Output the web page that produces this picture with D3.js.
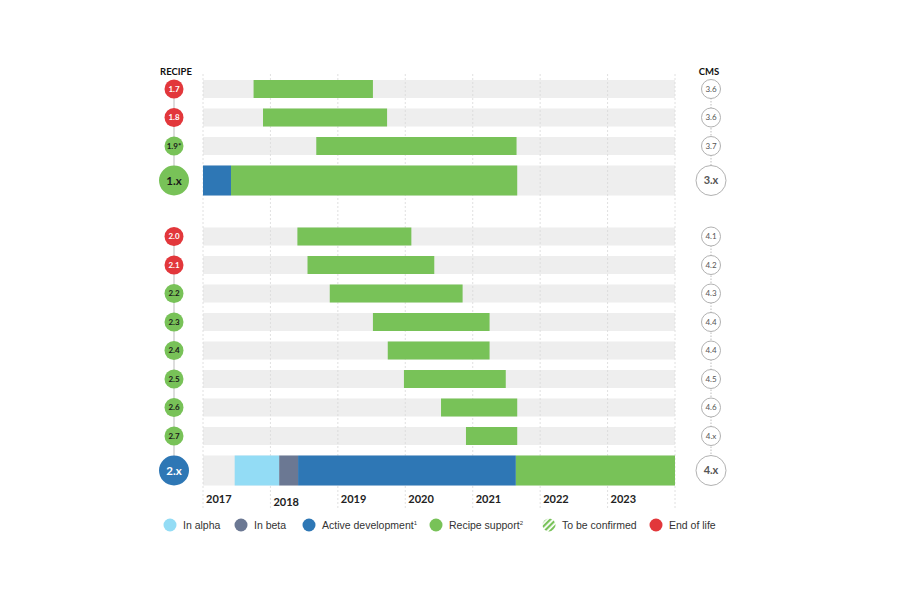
<!DOCTYPE html>
<html><head><meta charset="utf-8">
<script src="https://cdn.jsdelivr.net/npm/d3@7"></script>
<style>body{margin:0;background:#fff;} svg{display:block;}</style>
</head><body>
<svg id="chart" width="900" height="600"></svg>
<script>
// ---- data ----
const recipes = ["1.7","1.8","1.9*","1.x","2.0","2.1","2.2","2.3","2.4","2.5","2.6","2.7","2.x"];
const cmsVersions = ["3.6","3.6","3.7","3.x","4.1","4.2","4.3","4.4","4.4","4.5","4.6","4.x","4.x"];
const groups = [1,1,1,1,2,2,2,2,2,2,2,2,2];
const majors = [false,false,false,true,false,false,false,false,false,false,false,false,true];
const recipeStatus = ["eol","eol","recipe","recipe","eol","eol","recipe","recipe","recipe","recipe","recipe","recipe","active"];
const years = [2017,2018,2019,2020,2021,2022,2023];
// segments: [recipe, phase, start, end]
const segments = [
  ["1.7","recipe",2017.75,2019.52],
  ["1.8","recipe",2017.89,2019.73],
  ["1.9*","recipe",2018.68,2021.65],
  ["1.x","active",2017.0,2017.415],
  ["1.x","recipe",2017.415,2021.66],
  ["2.0","recipe",2018.40,2020.09],
  ["2.1","recipe",2018.55,2020.43],
  ["2.2","recipe",2018.88,2020.85],
  ["2.3","recipe",2019.52,2021.25],
  ["2.4","recipe",2019.74,2021.25],
  ["2.5","recipe",2019.98,2021.49],
  ["2.6","recipe",2020.53,2021.66],
  ["2.7","recipe",2020.90,2021.66],
  ["2.x","alpha",2017.47,2018.13],
  ["2.x","beta",2018.13,2018.41],
  ["2.x","active",2018.41,2021.64],
  ["2.x","recipe",2021.64,2024.0]
];
const legendKeys = ["alpha","beta","active","recipe","tbc","eol"];
const legendLabels = ["In alpha","In beta","Active development","Recipe support","To be confirmed","End of life"];
const legendSup = ["","","1","2","",""];

// ---- styles ----
const colors = {alpha:"#93dcf5", beta:"#6b7893", active:"#2e77b5", recipe:"#78c258", eol:"#e2373b", tbc:"#78c258"};
const svg = d3.select("#chart");
const defs = svg.append("defs");
const pat = defs.append("pattern").attr("id","stripes").attr("patternUnits","userSpaceOnUse")
  .attr("width",4).attr("height",4).attr("patternTransform","rotate(45)");
pat.append("rect").attr("width",2.2).attr("height",4).attr("fill",colors.recipe);

const x = d3.scaleLinear().domain([2017,2024]).range([203,675]);

// row layout
const smallH = 18, bigH = 30, gap = 10.5, groupGap = 32;
const rows = [];
let yCur = 80;
recipes.forEach((r,i) => {
  if (i>0) yCur += (groups[i] !== groups[i-1]) ? groupGap : gap;
  const h = majors[i] ? bigH : smallH;
  rows.push({name:r, cms:cmsVersions[i], top:yCur, h, major:majors[i], status:recipeStatus[i], group:groups[i]});
  yCur += h;
});
const rowByName = new Map(rows.map(r=>[r.name,r]));

const font = "Lato, 'Open Sans', sans-serif";

// background bars
svg.append("g").selectAll("rect").data(rows).join("rect")
  .attr("x", x(2017)).attr("width", x(2024)-x(2017))
  .attr("y", d=>d.top).attr("height", d=>d.h).attr("fill","#eeeeee");

// gridlines
svg.append("g").selectAll("line").data(years.concat([2024])).join("line")
  .attr("x1", d=>x(d)).attr("x2", d=>x(d)).attr("y1", 74).attr("y2", 508)
  .attr("stroke","#d8d8d8").attr("stroke-width",0.8).attr("stroke-dasharray","2,2");

// segments
svg.append("g").selectAll("rect").data(segments).join("rect")
  .attr("x", d=>x(d[2])).attr("width", d=>x(d[3])-x(d[2]))
  .attr("y", d=>rowByName.get(d[0]).top).attr("height", d=>rowByName.get(d[0]).h)
  .attr("fill", d=>colors[d[1]]);

// year labels
svg.append("g").selectAll("text").data(years).join("text")
  .attr("x", d=>x(d)+3).attr("y", (d,i)=> i===1 ? 506 : 503)
  .attr("font-family", font).attr("font-weight",700).attr("font-size",11).attr("fill","#222")
  .text(d=>d);

// left recipe column
const lx = 174, rx = 711;
[1,2].forEach(g => {
  const gr = rows.filter(r=>r.group===g);
  const y1 = gr[0].top + gr[0].h/2, y2 = gr[gr.length-1].top + gr[gr.length-1].h/2;
  svg.append("line").attr("x1",lx).attr("x2",lx).attr("y1",y1).attr("y2",y2).attr("stroke","#bbb").attr("stroke-width",1);
  svg.append("line").attr("x1",rx).attr("x2",rx).attr("y1",y1).attr("y2",y2).attr("stroke","#bbb").attr("stroke-width",1).attr("stroke-dasharray","1.5,1.5");
});
const lg = svg.append("g").selectAll("g").data(rows).join("g")
  .attr("transform", d=>`translate(${lx},${d.top+d.h/2})`);
lg.append("circle").attr("r", d=>d.major?15:9.5).attr("fill", d=>colors[d.status]);
lg.append("text").attr("text-anchor","middle").attr("dy","0.35em")
  .attr("font-family", font).attr("font-weight",700).attr("font-size", d=>d.major?11.5:8)
  .attr("fill", d=> d.status==="recipe" ? "#1a1a1a" : "#fff")
  .text(d=>d.name);

// right CMS column
const rg = svg.append("g").selectAll("g").data(rows).join("g")
  .attr("transform", d=>`translate(${rx},${d.top+d.h/2})`);
rg.append("circle").attr("r", d=>d.major?15:9.5).attr("fill","#fff").attr("stroke","#a8a8a8").attr("stroke-width",0.9);
rg.append("text").attr("text-anchor","middle").attr("dy","0.35em")
  .attr("font-family", font).attr("font-weight", d=>d.major?700:400).attr("font-size", d=>d.major?11:8)
  .attr("fill","#555").text(d=>d.cms);

// headers
svg.append("text").attr("x",176).attr("y",75).attr("text-anchor","middle")
  .attr("font-family", font).attr("font-weight",700).attr("font-size",9.5).attr("fill","#111").text("RECIPE");
svg.append("text").attr("x",709).attr("y",75).attr("text-anchor","middle")
  .attr("font-family", font).attr("font-weight",700).attr("font-size",9.5).attr("fill","#111").text("CMS");

// legend
const legendX = [170,241,309,436,549,656];
const leg = svg.append("g").selectAll("g").data(legendKeys).join("g")
  .attr("transform",(d,i)=>`translate(${legendX[i]},525)`);
leg.append("circle").attr("r",6.5).attr("fill", d=> d==="tbc" ? "url(#stripes)" : colors[d]);
const lt = leg.append("text").attr("x",13).attr("dy","0.35em")
  .attr("font-family","'Liberation Sans', Arial, sans-serif").attr("font-size",10.5).attr("fill","#333");
lt.append("tspan").text((d,i)=>legendLabels[i]);
lt.append("tspan").attr("dy","-0.6em").attr("font-size",6).text((d,i)=>legendSup[i]);
</script>
</body></html>
